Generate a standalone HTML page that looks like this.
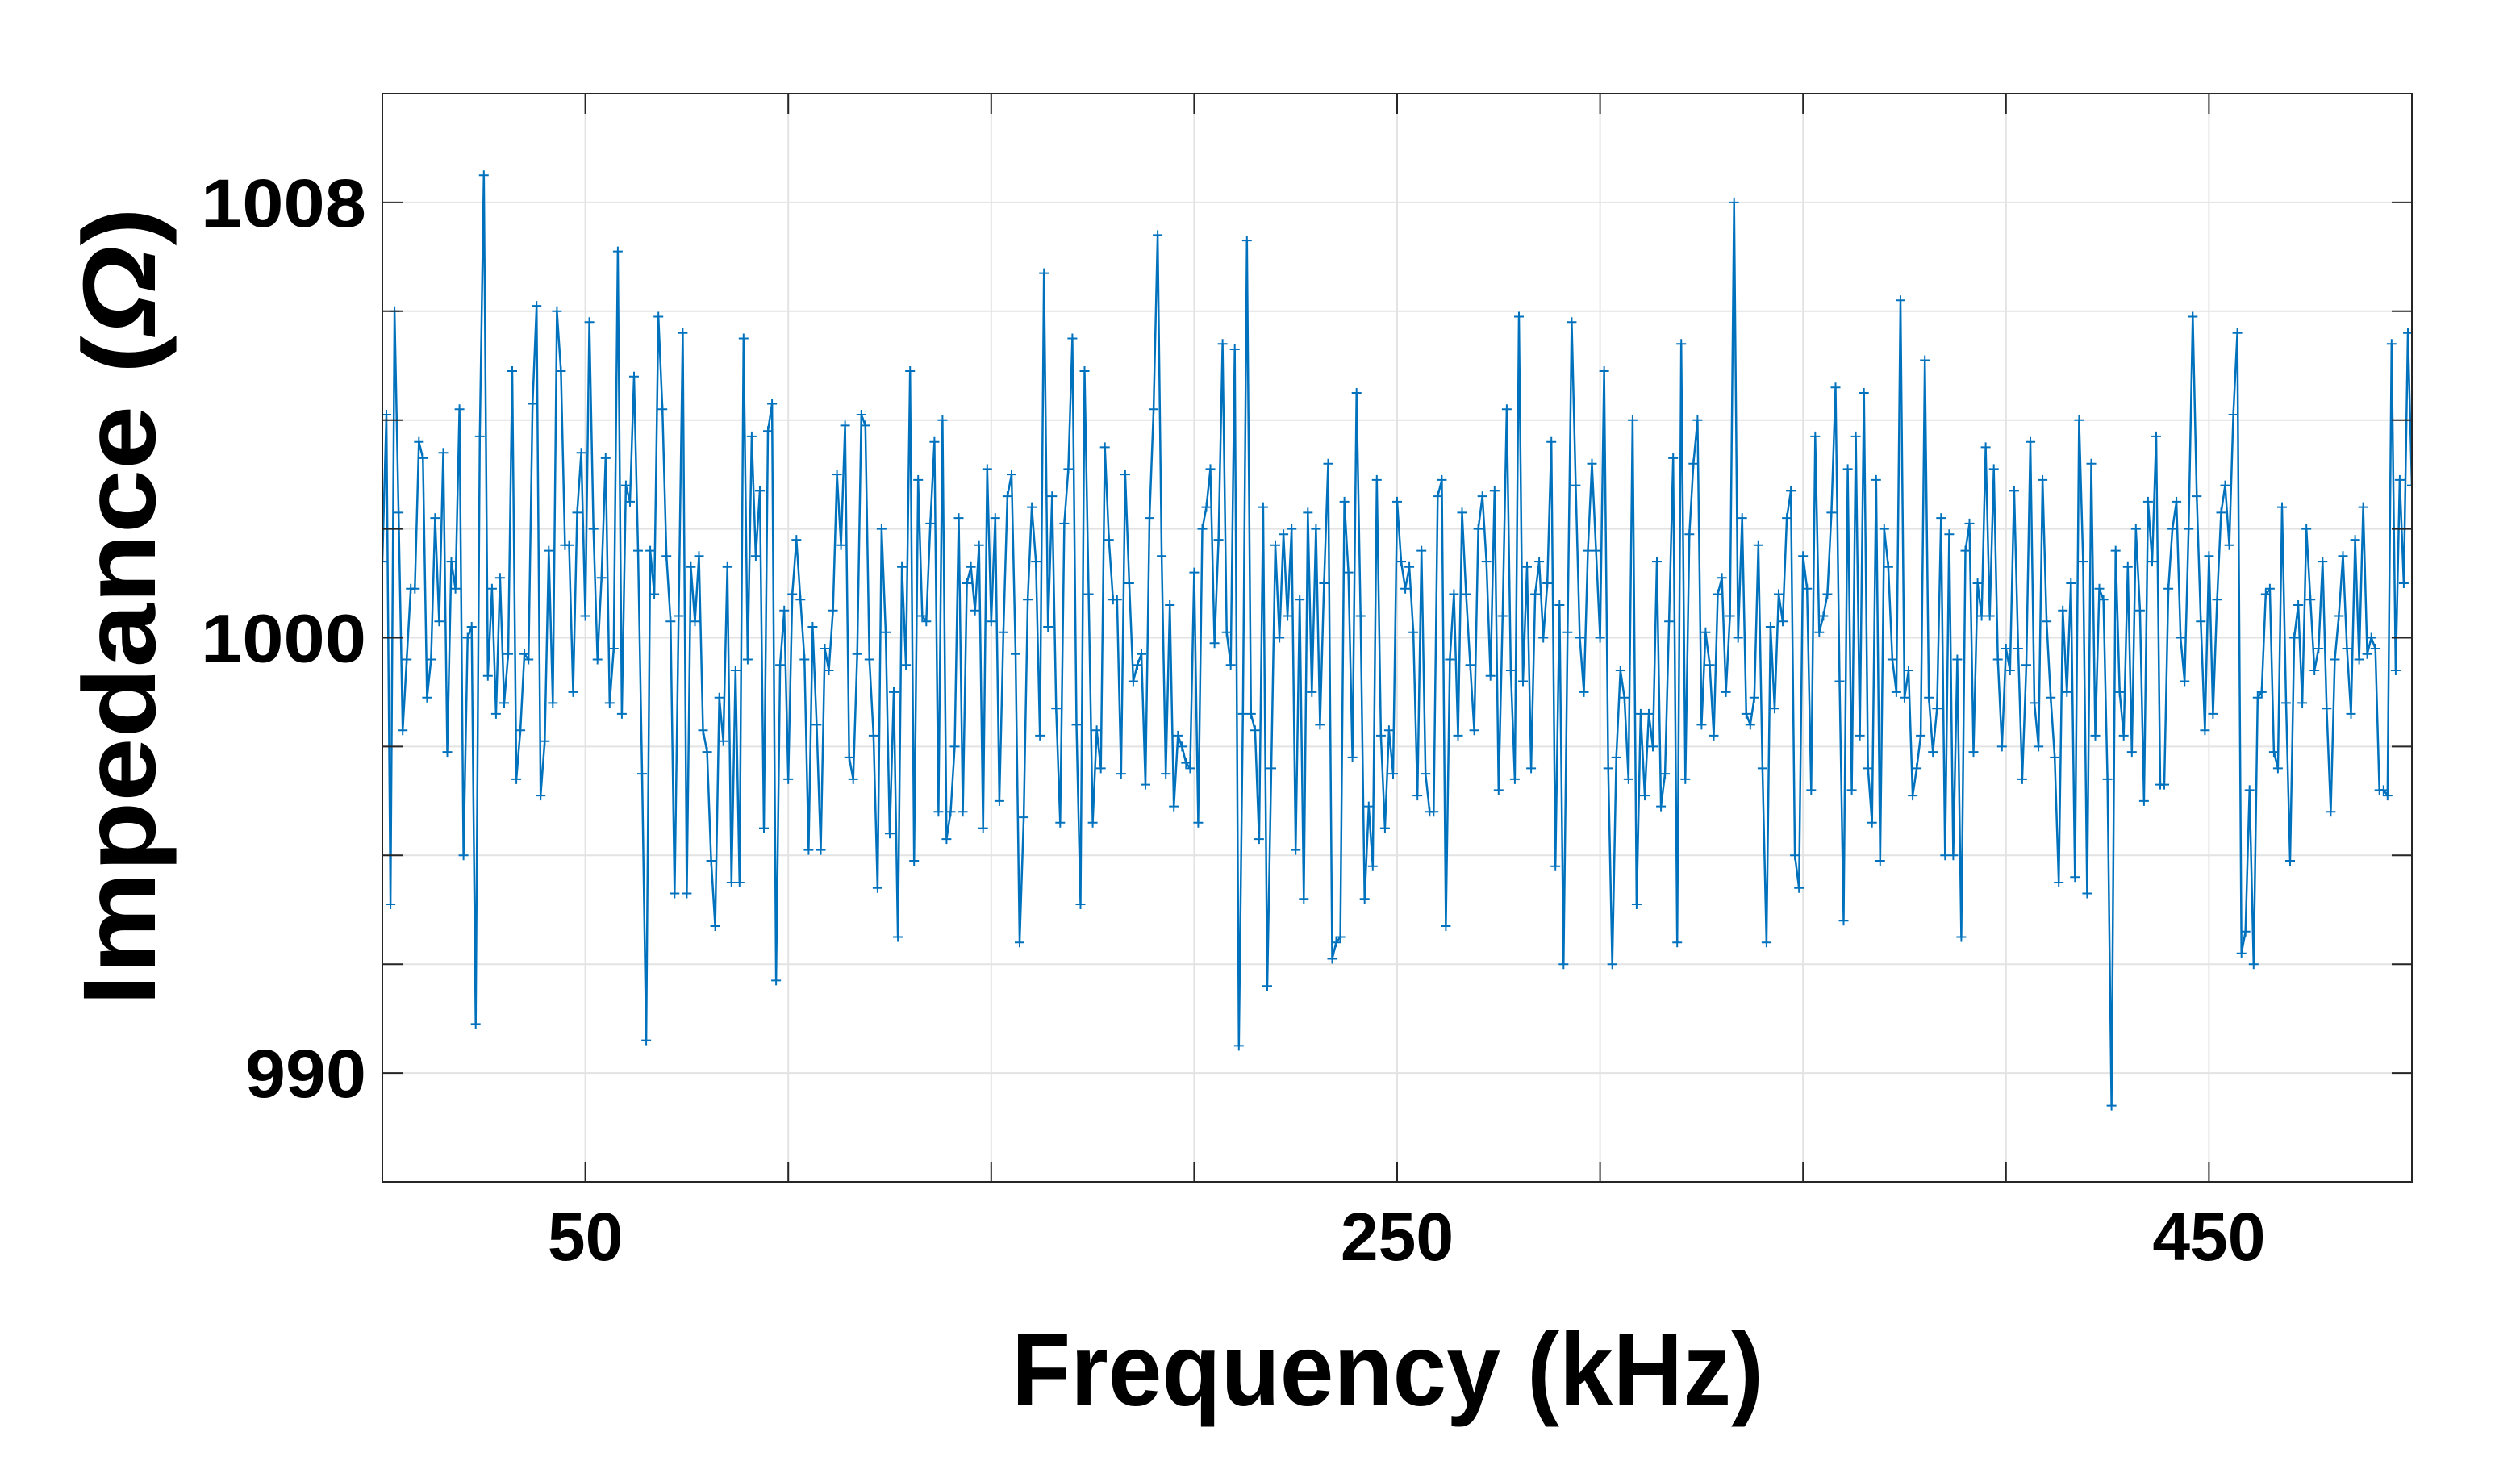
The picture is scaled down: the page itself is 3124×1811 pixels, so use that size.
<!DOCTYPE html>
<html><head><meta charset="utf-8"><style>
html,body{margin:0;padding:0;background:#fff;}
svg{display:block;font-family:"Liberation Sans",sans-serif;}
</style></head><body>
<svg id="chart" width="3124" height="1811" viewBox="0 0 3124 1811" xmlns="http://www.w3.org/2000/svg">
<rect width="3124" height="1811" fill="#fff"/>
<defs><clipPath id="clip"><rect x="474" y="116" width="2516" height="1349"/></clipPath></defs>
<g id="grid"></g>
<g id="series" clip-path="url(#clip)"></g>
<rect x="474" y="116" width="2516" height="1349" fill="none" stroke="#262626" stroke-width="2"/>
<g id="ticks"></g>
<text x="1720" y="1742" text-anchor="middle" font-size="128" font-weight="bold" textLength="932" lengthAdjust="spacingAndGlyphs">Frequency (kHz)</text>
<text transform="translate(192,752) rotate(-90)" text-anchor="middle" font-size="128" font-weight="bold" textLength="990" lengthAdjust="spacingAndGlyphs">Impedance (<tspan font-style="italic">Ω</tspan>)</text>
</svg>
<script>
const xTicks = [0,50,100,150,200,250,300,350,400,450,500];
const xTickLabels = ["","50","","","","250","","","","450",""];
const yTicks = [990,992,994,996,998,1000,1002,1004,1006,1008,1010];
const yTickLabels = ["","990","","","","1000","","","","1008",""];
const impedance = [
1001.4,1004.1,995.1,1006.0,1002.3,998.3,999.6,1000.9,1000.9,1003.6,1003.3,998.9,999.6,1002.2,1000.3,1003.4,997.9,1001.4,1000.9,1004.2,996.0,1000.0,1000.2,992.9,1003.7,1008.5,999.3,1000.9,998.6,1001.1,998.8,999.7,1004.9,997.4,998.3,999.7,999.6,1004.3,1006.1,997.1,998.1,1001.6,998.8,1006.0,1004.9,1001.7,1001.7,999.0,1002.3,1003.4,1000.4,1005.8,1002.0,999.6,1001.1,1003.3,998.8,999.8,1007.1,998.6,1002.8,1002.5,1004.8,1001.6,997.5,992.6,1001.6,1000.8,1005.9,1004.2,1001.5,1000.3,995.3,1000.4,1005.6,995.3,1001.3,1000.3,1001.5,998.3,997.9,995.9,994.7,998.9,998.1,1001.3,995.5,999.4,995.5,1005.5,999.6,1003.7,1001.5,1002.7,996.5,1003.8,1004.3,993.7,999.5,
1000.5,997.4,1000.8,1001.8,1000.7,999.6,996.1,1000.2,998.4,996.1,999.8,999.4,1000.5,1003.0,1001.7,1003.9,997.8,997.4,999.7,1004.1,1003.9,999.6,998.2,995.4,1002.0,1000.1,996.4,999.0,994.5,1001.3,999.5,1004.9,995.9,1002.9,1000.4,1000.3,1002.1,1003.6,996.8,1004.0,996.3,996.8,998.0,1002.2,996.8,1001.0,1001.3,1000.5,1001.7,996.5,1003.1,1000.3,1002.2,997.0,1000.1,1002.6,1003.0,999.7,994.4,996.7,1000.7,1002.4,1001.4,998.2,1006.7,1000.2,1002.6,998.7,996.6,1002.1,1003.1,1005.5,998.4,995.1,1004.9,1000.8,996.6,998.3,997.6,1003.5,1001.8,1000.7,1000.7,997.5,1003.0,1001.0,999.2,999.5,999.7,997.3,1002.2,1004.2,1007.4,1001.5,997.5,1000.6,996.9,998.2,998.0,997.7,
997.6,1001.2,996.6,1002.0,1002.4,1003.1,999.9,1001.8,1005.4,1000.1,999.5,1005.3,992.5,998.6,1007.3,998.6,998.3,996.3,1002.4,993.6,997.6,1001.7,1000.0,1001.9,1000.4,1002.0,996.1,1000.7,995.2,1002.3,999.0,1002.0,998.4,1001.0,1003.2,994.1,994.4,994.5,1002.5,1001.2,997.8,1004.5,1000.4,995.2,996.9,995.8,1002.9,998.2,996.5,998.3,997.5,1002.5,1001.4,1000.9,1001.3,1000.1,997.1,1001.6,997.5,996.8,996.8,1002.6,1002.9,994.7,999.6,1000.8,998.2,1002.3,1000.8,999.5,998.3,1002.0,1002.6,1001.4,999.3,1002.7,997.2,1000.4,1004.2,999.4,997.4,1005.9,999.2,1001.3,997.6,1000.8,1001.4,1000.0,1001.0,1003.6,995.8,1000.6,994.0,1000.1,1005.8,1002.8,1000.0,999.0,1001.6,1003.2,
1001.6,1000.0,1004.9,997.6,994.0,997.8,999.4,998.9,997.4,1004.0,995.1,998.6,997.1,998.6,998.0,1001.4,996.9,997.5,1000.3,1003.3,994.4,1005.4,997.4,1001.9,1003.2,1004.0,998.4,1000.1,999.5,998.2,1000.8,1001.1,999.0,1000.4,1008.0,1000.0,1002.2,998.6,998.4,998.9,1001.7,997.6,994.4,1000.2,998.7,1000.8,1000.3,1002.2,1002.7,996.0,995.4,1001.5,1000.9,997.2,1003.7,1000.1,1000.4,1000.8,1002.3,1004.6,999.2,994.8,1003.1,997.2,1003.7,998.2,1004.5,997.6,996.6,1002.9,995.9,1002.0,1001.3,999.6,999.0,1006.2,998.9,999.4,997.1,997.6,998.2,1005.1,998.9,997.9,998.7,1002.2,996.0,1001.9,996.0,999.6,994.5,1001.6,1002.1,997.9,1001.0,1000.4,1003.5,1000.4,1003.1,999.6,
998.0,999.8,999.4,1002.7,999.8,997.4,999.5,1003.6,998.8,998.0,1002.9,1000.3,998.9,997.8,995.5,1000.5,999.0,1001.0,995.6,1004.0,1001.4,995.3,1003.2,998.2,1000.9,1000.7,997.4,991.4,1001.6,999.0,998.2,1001.3,997.9,1002.0,1000.5,997.0,1002.5,1001.4,1003.7,997.3,997.3,1000.9,1002.0,1002.5,1000.0,999.2,1002.0,1005.9,1002.6,1000.3,998.3,1001.5,998.6,1000.7,1002.3,1002.8,1001.7,1004.1,1005.6,994.2,994.6,997.2,994.0,998.9,999.0,1000.8,1000.9,997.9,997.6,1002.4,998.8,995.9,1000.0,1000.6,998.8,1002.0,1000.7,999.4,999.8,1001.4,998.7,996.8,999.6,1000.4,1001.5,999.8,998.6,1001.8,999.6,1002.4,999.7,1000.0,999.8,997.2,997.2,997.1,1005.4,999.4,1002.9,1001.0,1005.6,1002.8
];
const X0=474,X1=2990,Y0=116,Y1=1465,XMIN=0,XMAX=500,YMIN=990,YMAX=1010;
function xs(v){return X0+(v-XMIN)/(XMAX-XMIN)*(X1-X0);}
function ys(v){return Y1-(v-YMIN)/(YMAX-YMIN)*(Y1-Y0);}
const NS="http://www.w3.org/2000/svg";
function mk(tag,attrs,parent){const e=document.createElementNS(NS,tag);for(const k in attrs)e.setAttribute(k,attrs[k]);parent.appendChild(e);return e;}
const grid=document.getElementById('grid'),ticks=document.getElementById('ticks'),series=document.getElementById('series');
xTicks.forEach((t,i)=>{
  const x=xs(t);
  const g=mk('line',{x1:x,x2:x,y1:Y0,y2:Y1,stroke:'#e3e3e3','stroke-width':2},grid);
  
  
  const a=mk('line',{x1:x,x2:x,y1:Y1,y2:Y1-25,stroke:'#262626','stroke-width':2},ticks);
  
  
  const b=mk('line',{x1:x,x2:x,y1:Y0,y2:Y0+25,stroke:'#262626','stroke-width':2},ticks);
  
  
  if(xTickLabels[i]){
    const tx=mk('text',{x:x,y:1562,'text-anchor':'middle','font-size':84,'font-weight':'bold'},ticks);
    tx.textContent=xTickLabels[i];
    
    
  }
});
yTicks.forEach((t,i)=>{
  const y=ys(t);
  const g=mk('line',{x1:X0,x2:X1,y1:y,y2:y,stroke:'#e3e3e3','stroke-width':2},grid);
  
  
  const a=mk('line',{x1:X0,x2:X0+25,y1:y,y2:y,stroke:'#262626','stroke-width':2},ticks);
  
  
  const b=mk('line',{x1:X1,x2:X1-25,y1:y,y2:y,stroke:'#262626','stroke-width':2},ticks);
  
  
  if(yTickLabels[i]){
    const len=yTickLabels[i].length===4?205:150;
    const tx=mk('text',{x:454,y:y+30,'text-anchor':'end','font-size':84,'font-weight':'bold',textLength:len,lengthAdjust:'spacingAndGlyphs'},ticks);
    tx.textContent=yTickLabels[i];
    
    
  }
});
let d='',m='';
impedance.forEach((v,i)=>{
  const x=xs(i),y=ys(v);
  d+=(i?'L':'M')+x.toFixed(1)+' '+y.toFixed(1);
  m+='M'+(x-6).toFixed(1)+' '+y.toFixed(1)+'h12M'+x.toFixed(1)+' '+(y-6).toFixed(1)+'v12';
});
const line=mk('path',{d:d,fill:'none',stroke:'#0072BD','stroke-width':2.5,'stroke-linejoin':'round'},series);


const mks=mk('path',{d:m,fill:'none',stroke:'#0072BD','stroke-width':2},series);


</script>
</body></html>
